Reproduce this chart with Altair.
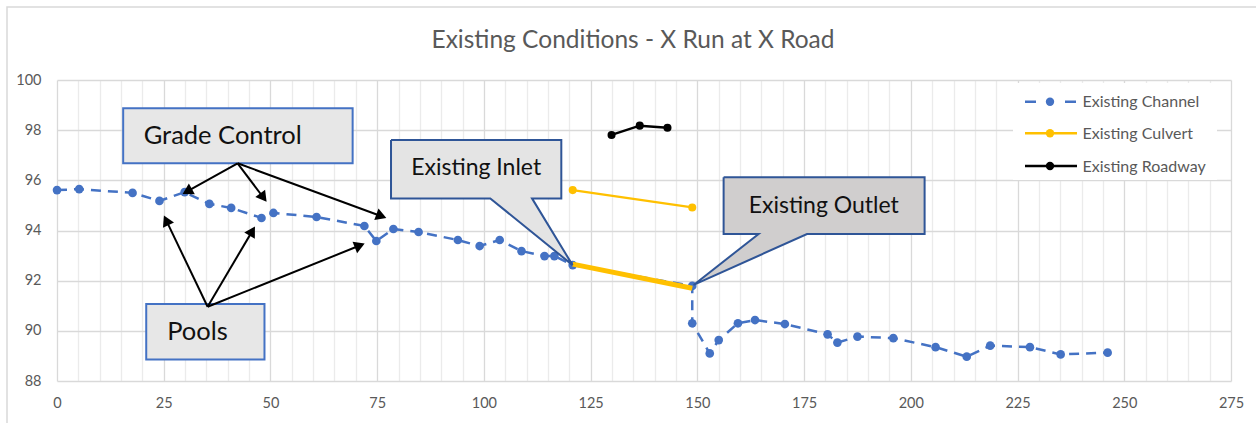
import math
import altair as alt
import pandas as pd

# ---------------- data ----------------
channel_x = [0, 5.2, 17.7, 24.0, 29.9, 35.7, 40.8, 47.9, 50.7, 60.8,
             72.0, 74.8, 78.8, 84.7, 93.9, 99.0, 103.7, 108.8, 114.2, 116.5,
             120.8, 148.8, 148.8, 152.9, 155.0, 159.5, 163.5, 170.5, 180.5, 182.8,
             187.5, 195.9, 205.8, 213.1, 218.6, 227.9, 235.1, 246.1]
channel_y = [95.61, 95.65, 95.50, 95.18, 95.53, 95.06, 94.90, 94.50, 94.70, 94.54,
             94.18, 93.58, 94.06, 93.94, 93.62, 93.38, 93.62, 93.18, 92.98, 92.98,
             92.62, 91.79, 90.30, 89.10, 89.63, 90.30, 90.43, 90.27, 89.86, 89.53,
             89.77, 89.71, 89.35, 88.97, 89.41, 89.35, 89.06, 89.13]
culvert_x = [120.8, 148.8]
culvert_y = [95.61, 94.92]
roadway_x = [129.9, 136.5, 143.0]
roadway_y = [97.81, 98.18, 98.10]
# drawn highlight of the culvert flow line (shape on the chart)
flow_x = [120.8, 148.8]
flow_y = [92.66, 91.70]

series_names = ["Existing Channel", "Existing Culvert", "Existing Roadway"]
title_text = "Existing Conditions - X Run at X Road"

# annotation boxes (data coordinates)
gc_box = {"x": 15.5, "x2": 69.25, "y": 98.87, "y2": 96.68, "label": "Grade Control", "tx": 20.3, "ty": 97.44}
pools_box = {"x": 20.9, "x2": 48.6, "y": 91.07, "y2": 88.86, "label": "Pools", "tx": 25.8, "ty": 89.63}
gc_origin = (42.3, 96.68)
gc_tips = [(29.28, 95.44), (49.19, 95.12), (77.3, 94.49)]
pools_origin = (35.28, 90.96)
pools_tips = [(24.97, 94.62), (46.45, 94.18), (72.22, 93.49)]

inlet_poly_x = [78.24, 118.13, 118.13, 111.27, 120.77, 101.5, 78.24, 78.24]
inlet_poly_y = [97.61, 97.61, 95.28, 95.28, 92.62, 95.28, 95.28, 97.61]
inlet_label = ("Existing Inlet", 98.2, 96.21)
outlet_poly_x = [156.15, 203.23, 203.23, 175.68, 149.12, 164.34, 156.15, 156.15]
outlet_poly_y = [96.12, 96.12, 93.86, 93.86, 91.83, 93.86, 93.86, 96.12]
outlet_label = ("Existing Outlet", 179.6, 94.71)

# ---------------- layout ----------------
W, H = 1174, 301
XD, YD = [0, 275], [88, 100]
FONT = "Lato"
GREY = "#595959"
BLUE = "#4472C4"
GOLD = "#FFC000"

xscale = alt.Scale(domain=XD, nice=False, zero=False)
yscale = alt.Scale(domain=YD, nice=False, zero=False)
xaxis = alt.Axis(values=list(range(0, 276, 5)), title=None, domain=False, ticks=False,
                 labelExpr="datum.value % 25 === 0 ? datum.label : ''",
                 labelFont=FONT, labelFontSize=14.5, labelColor=GREY, labelPadding=15,
                 labelFlush=False,
                 gridColor={"condition": {"test": "datum.value % 25 === 0", "value": "#d9d9d9"},
                            "value": "#ebebeb"},
                 gridWidth=1.3)
yaxis = alt.Axis(values=list(range(88, 101, 2)), title=None, domain=False, ticks=False,
                 labelFont=FONT, labelFontSize=14.5, labelColor=GREY, labelPadding=16,
                 gridColor="#d9d9d9", gridWidth=1.3)


def X(f):
    return alt.X(f, type="quantitative", scale=xscale, axis=xaxis)


def Y(f):
    return alt.Y(f, type="quantitative", scale=yscale, axis=yaxis)


def X2(f):
    return alt.X2(f)


def Y2(f):
    return alt.Y2(f)


one = alt.Data(values=[{}])

ch = pd.DataFrame({"x": channel_x, "y": channel_y, "i": range(len(channel_x))})
cu = pd.DataFrame({"x": culvert_x, "y": culvert_y})
rd = pd.DataFrame({"x": roadway_x, "y": roadway_y})
fl = pd.DataFrame({"x": flow_x, "y": flow_y})

base_grid = alt.Chart(ch).mark_point(opacity=0).encode(x=X("x"), y=Y("y"))

channel_line = alt.Chart(ch).mark_line(color=BLUE, strokeWidth=2.5, strokeDash=[10, 7]).encode(
    x=X("x"), y=Y("y"), order="i:Q")
channel_pts = alt.Chart(ch).mark_point(filled=True, color=BLUE, size=75, opacity=1).encode(x=X("x"), y=Y("y"))

culvert_line = alt.Chart(cu).mark_line(color=GOLD, strokeWidth=2.2).encode(x=X("x"), y=Y("y"))
culvert_pts = alt.Chart(cu).mark_point(filled=True, color=GOLD, size=65, opacity=1).encode(x=X("x"), y=Y("y"))
road_line = alt.Chart(rd).mark_line(color="black", strokeWidth=2.5).encode(x=X("x"), y=Y("y"))
road_pts = alt.Chart(rd).mark_point(filled=True, color="black", size=65, opacity=1).encode(x=X("x"), y=Y("y"))
flow_line = alt.Chart(fl).mark_line(color=GOLD, strokeWidth=5).encode(x=X("x"), y=Y("y"))

# callout boxes
boxes = pd.DataFrame([gc_box, pools_box])
box_rect = alt.Chart(boxes).mark_rect(fill="#e7e7e7", stroke=BLUE, strokeWidth=2).encode(
    x=X("x"), x2=X2("x2"), y=Y("y"), y2=Y2("y2"))
box_text = alt.Chart(boxes).mark_text(align="left", baseline="alphabetic", font=FONT, fontSize=25.5,
                                     color="#111111").encode(x=X("tx"), y=Y("ty"), text="label:N")

inlet_df = pd.DataFrame({"x": inlet_poly_x, "y": inlet_poly_y, "i": range(len(inlet_poly_x))})
outlet_df = pd.DataFrame({"x": outlet_poly_x, "y": outlet_poly_y, "i": range(len(outlet_poly_x))})
inlet_poly = alt.Chart(inlet_df).mark_line(fill="#e4e4e4", stroke="#2F5597", strokeWidth=2,
                                           strokeJoin="miter").encode(x=X("x"), y=Y("y"), order="i:Q")
outlet_poly = alt.Chart(outlet_df).mark_line(fill="#d0cece", stroke="#2F5597", strokeWidth=2,
                                             strokeJoin="miter").encode(x=X("x"), y=Y("y"), order="i:Q")
call_labels = pd.DataFrame([
    {"label": inlet_label[0], "x": inlet_label[1], "y": inlet_label[2]},
    {"label": outlet_label[0], "x": outlet_label[1], "y": outlet_label[2]},
])
call_text = alt.Chart(call_labels).mark_text(align="center", baseline="alphabetic", font=FONT, fontSize=23,
                                             color="#111111").encode(x=X("x"), y=Y("y"), text="label:N")

# arrows
px_x = W / (XD[1] - XD[0])
px_y = H / (YD[1] - YD[0])
arrows = []
for origin, tips in [(gc_origin, gc_tips), (pools_origin, pools_tips)]:
    for t in tips:
        dx = (t[0] - origin[0]) * px_x
        dy = -(t[1] - origin[1]) * px_y
        L = math.hypot(dx, dy)
        ux, uy = dx / L, dy / L
        back = 6
        hx = t[0] - back * ux / px_x
        hy = t[1] + back * uy / px_y
        ang = (math.degrees(math.atan2(ux, -uy)) + 360) % 360
        lx = t[0] - 8 * ux / px_x
        ly = t[1] + 8 * uy / px_y
        arrows.append({"x": origin[0], "y": origin[1], "x2": lx, "y2": ly, "hx": hx, "hy": hy, "ang": ang})
arr = pd.DataFrame(arrows)
arrow_lines = alt.Chart(arr).mark_rule(color="black", strokeWidth=2).encode(
    x=X("x"), y=Y("y"), x2=X2("x2"), y2=Y2("y2"))
arrow_heads = alt.Chart(arr).mark_point(shape="triangle-up", filled=True, color="black", size=150,
                                        opacity=1).encode(x=X("hx"), y=Y("hy"), angle=alt.Angle("ang:Q", scale=None))

# legend (drawn)
leg_bg = alt.Chart(one).mark_rect(fill="white", strokeWidth=0).encode(
    x=alt.value(956), x2=alt.value(1160), y=alt.value(3), y2=alt.value(100))
leg_df = pd.DataFrame({"name": series_names, "yy": [21.7, 53.3, 86],
                       "col": [BLUE, GOLD, "black"]})
leg_lines = alt.Chart(leg_df).transform_filter("datum.name != 'Existing Channel'").mark_rule(strokeWidth=2.5).encode(
    x=alt.value(968), x2=alt.value(1020), y=alt.Y("yy:Q", scale=None), color=alt.Color("col:N", scale=None))
leg_dash = alt.Chart(leg_df).transform_filter("datum.name == 'Existing Channel'").mark_rule(
    strokeWidth=2.5, strokeDash=[11, 29]).encode(
    x=alt.value(968), x2=alt.value(1020), y=alt.Y("yy:Q", scale=None), color=alt.Color("col:N", scale=None))
leg_pts = alt.Chart(leg_df).mark_point(filled=True, size=70, opacity=1).encode(
    x=alt.value(993), y=alt.Y("yy:Q", scale=None), color=alt.Color("col:N", scale=None))
leg_text = alt.Chart(leg_df).mark_text(align="left", baseline="alphabetic", font=FONT, fontSize=16,
                                       color=GREY, dy=5.5).encode(
    x=alt.value(1025.5), y=alt.Y("yy:Q", scale=None), text="name:N")

title = alt.Chart(one).mark_text(text=title_text, font=FONT, fontSize=24.5, color=GREY,
                                 align="center", baseline="alphabetic").encode(
    x=alt.value(576), y=alt.value(-31.7))
frame = alt.Chart(one).mark_rect(fill=None, stroke="#d9d9d9", strokeWidth=1.5).encode(
    x=alt.value(-50), x2=alt.value(1215), y=alt.value(-73), y2=alt.value(360))

chart = alt.layer(
    frame, base_grid, channel_line, channel_pts, culvert_line, culvert_pts, road_line, road_pts,
    flow_line, box_rect, box_text, arrow_lines, arrow_heads, inlet_poly, outlet_poly, call_text,
    leg_bg, leg_dash, leg_lines, leg_pts, leg_text, title
).properties(
    width=W, height=H,
    autosize=alt.AutoSizeParams(type="none"),
    padding={"left": 57, "top": 80, "right": 25, "bottom": 42},
    background="white",
).configure_view(stroke=None)

chart.save("out.html", embed_options={"renderer": "svg", "actions": False})
